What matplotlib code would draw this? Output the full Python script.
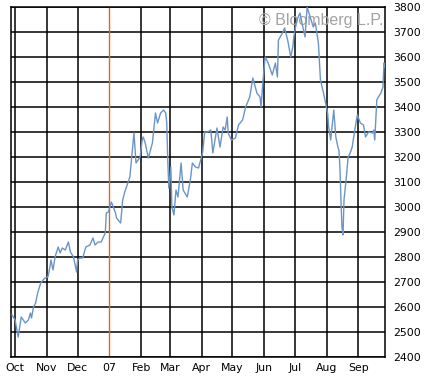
import matplotlib
matplotlib.use("Agg")
import matplotlib.pyplot as plt
import matplotlib.dates as mdates
import pandas as pd
import numpy as np

# ---- data ----
start = pd.Timestamp("2006-10-01")
days = [-3, 0, 3, 6, 8, 10, 13, 15, 16, 18, 20, 22, 25, 29, 32, 34, 35, 37, 39, 42,
        44, 46, 49, 52, 54, 57, 60, 61, 63, 66, 69, 73, 76, 78, 81, 84, 88, 89, 91, 94,
        98, 99, 103, 105, 107, 110, 112, 115, 116, 118, 120, 122, 124, 125, 127, 130,
        134, 137, 139, 142, 145, 147, 148, 149, 150, 152, 153, 155, 157, 159, 162, 164,
        168, 171, 173, 176, 179, 183, 185, 188, 191, 193, 197, 200, 203, 205, 207, 208,
        211, 215, 218, 222, 225, 229, 232, 236, 239, 240, 242, 244, 247, 251, 254, 256,
        257, 261, 263, 266, 269, 271, 272, 275, 278, 280, 283, 285, 288, 291, 293, 296,
        298, 301, 305, 306, 308, 310, 311, 313, 315, 316, 317, 318, 319, 320, 321, 323,
        325, 327, 329, 330, 332, 334, 337, 340, 342, 345, 349, 350, 351, 353, 354, 357,
        359, 360, 361]
values = [2568, 2548, 2480, 2560, 2548, 2536, 2548, 2576, 2556, 2600, 2616, 2656, 2696,
          2716, 2720, 2760, 2788, 2748, 2800, 2840, 2816, 2836, 2828, 2860, 2820, 2800,
          2740, 2788, 2796, 2796, 2840, 2848, 2876, 2848, 2860, 2860, 2896, 2976, 2980,
          3020, 2976, 2956, 2936, 3028, 3060, 3096, 3120, 3250, 3296, 3176, 3188, 3200,
          3268, 3280, 3256, 3196, 3256, 3376, 3336, 3376, 3388, 3376, 3336, 3188, 3076,
          3160, 3000, 2968, 3068, 3040, 3176, 3068, 3040, 3108, 3176, 3160, 3156, 3216,
          3300, 3300, 3308, 3216, 3316, 3240, 3320, 3308, 3360, 3296, 3268, 3276, 3328,
          3348, 3400, 3440, 3516, 3456, 3440, 3400, 3508, 3600, 3576, 3528, 3576, 3520,
          3668, 3696, 3716, 3668, 3600, 3640, 3680, 3748, 3776, 3736, 3680, 3800, 3760,
          3720, 3736, 3656, 3508, 3456, 3376, 3320, 3268, 3348, 3388, 3280, 3240, 3228,
          3160, 3028, 2920, 2888, 3028, 3108, 3200, 3216, 3240, 3268, 3320, 3368, 3336,
          3328, 3280, 3300, 3296, 3308, 3268, 3428, 3436, 3456, 3480, 3576, 3560]

month_starts = ["2006-10-01", "2006-11-01", "2006-12-01", "2007-01-01", "2007-02-01",
                "2007-03-01", "2007-04-01", "2007-05-01", "2007-06-01", "2007-07-01",
                "2007-08-01", "2007-09-01"]
month_labels = ["Oct", "Nov", "Dec", "07", "Feb", "Mar", "Apr", "May", "Jun", "Jul",
                "Aug", "Sep"]
year_break = "2007-01-01"
y_ticks = list(range(2400, 3801, 100))
x_start, x_end = "2006-09-27", "2007-09-27"
watermark = "\u00a9 Bloomberg L.P."

# ---- plot ----
dates = start + pd.to_timedelta(days, unit="D")
fig = plt.figure(figsize=(4.32, 3.79), dpi=100)
ax = fig.add_axes([11/432, 1-357/379, 374/432, 350/379])

ax.set_xlim(mdates.date2num(pd.Timestamp(x_start)), mdates.date2num(pd.Timestamp(x_end)))
ax.set_ylim(2400, 3800)

grid_lw = 1.1
for y in y_ticks:
    ax.axhline(y, color="black", lw=grid_lw, zorder=1)
for d in month_starts:
    if d == year_break:
        ax.axvline(mdates.date2num(pd.Timestamp(d)), color="#d0701c", lw=1.0, zorder=1)
    else:
        ax.axvline(mdates.date2num(pd.Timestamp(d)), color="black", lw=grid_lw, zorder=1)

ax.text(0.995, 0.962, watermark, transform=ax.transAxes, ha="right", va="center",
        fontsize=11.5, family="Liberation Sans", color="#a3a3a3", zorder=2)

ax.plot(mdates.date2num(dates), values, color="#6b95c6", lw=1.0, zorder=3)

ax.set_xticks([mdates.date2num(pd.Timestamp(d)) for d in month_starts])
ax.set_xticklabels(month_labels)
ax.set_yticks(y_ticks)
ax.set_yticklabels([str(v) for v in y_ticks])
ax.yaxis.tick_right()
ax.tick_params(axis="both", length=0, labelsize=7.8, colors="black")
ax.tick_params(axis="y", pad=6)
ax.tick_params(axis="x", pad=4)
for s in ax.spines.values():
    s.set_color("black")
    s.set_linewidth(1.1)

fig.savefig("out.png", dpi=100)
